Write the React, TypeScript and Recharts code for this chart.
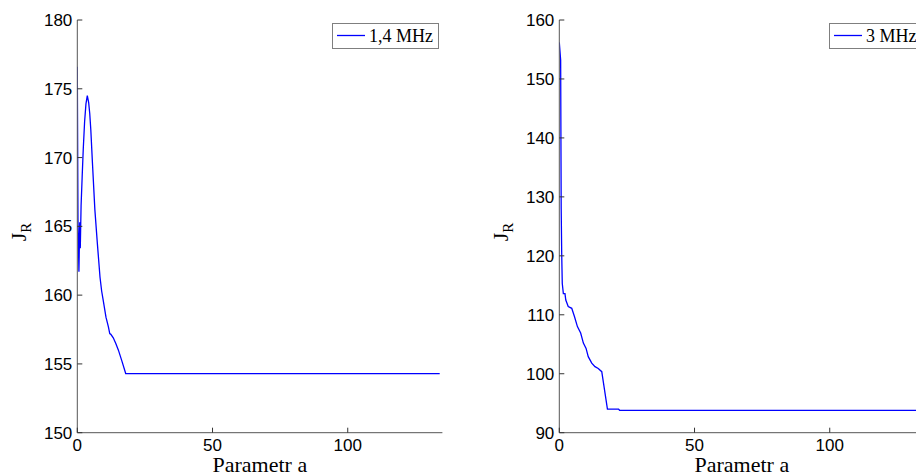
import React from "react";
import { LineChart, Line, XAxis, YAxis, Legend } from "recharts";

// ---- data ----
const leftA = [0, 0.25, 0.6, 0.9, 1.1, 1.4, 1.8, 2.2, 2.7, 3.2, 3.7, 4.2, 4.6, 5.0, 5.6, 6.5, 7.4, 8.4, 9.0, 9.6, 10.6, 11.5, 12.0, 12.4, 13.3, 14.2, 15.2, 16.5, 17.9, 134];
const leftJ = [176.6, 165.5, 161.7, 165.3, 163.4, 166.5, 168.6, 170.6, 172.6, 173.9, 174.5, 174.0, 173.2, 172.0, 169.6, 166.2, 163.8, 161.3, 160.3, 159.6, 158.4, 157.7, 157.2, 157.15, 156.9, 156.5, 156.0, 155.2, 154.3, 154.3];

const rightA = [0, 0.5, 0.7, 0.9, 1.1, 1.5, 2.1, 2.4, 3.3, 4.6, 5.6, 6.7, 7.9, 8.9, 9.9, 10.7, 12.0, 13.2, 14.4, 15.7, 17.8, 21.9, 22.3, 134];
const rightJ = [156.2, 153.2, 128.0, 120.0, 115.3, 113.6, 113.6, 112.5, 111.4, 111.1, 109.7, 108.0, 106.9, 105.2, 104.3, 102.9, 101.8, 101.2, 100.9, 100.35, 94.0, 94.0, 93.8, 93.8];

const xTicks = [0, 50, 100];
const xDomain = [0, 135];
const leftYTicks = [150, 155, 160, 165, 170, 175, 180];
const leftYDomain = [150, 180];
const rightYTicks = [90, 100, 110, 120, 130, 140, 150, 160];
const rightYDomain = [90, 160];

const leftName = "1,4 MHz";
const rightName = "3 MHz";
const xLabel = "Parametr a";

const leftData = leftA.map((a, i) => ({ a, j: leftJ[i] }));
const rightData = rightA.map((a, i) => ({ a, j: rightJ[i] }));

// ---- styles ----
const SANS = "'Liberation Sans', Arial, Helvetica, sans-serif";
const SERIF = "'Liberation Serif', 'Times New Roman', serif";
const AXIS = "#555555";
const TICK = "#333333";
const TL = 5;

const YTickLeft = (props: any) => {
  const { x, y, payload } = props;
  return (
    <g>
      <line x1={x} x2={x + TL} y1={y} y2={y} stroke={TICK} strokeWidth={1} />
      <text x={x - 5} y={y} dy="0.36em" textAnchor="end" fontFamily={SANS} fontSize={17} fill="#000">
        {payload.value}
      </text>
    </g>
  );
};

const YTickRight = (props: any) => {
  const { x, y } = props;
  return <line x1={x} x2={x - TL} y1={y} y2={y} stroke={TICK} strokeWidth={1} />;
};

const XTickBottom = (props: any) => {
  const { x, y, payload } = props;
  return (
    <g>
      <line x1={x} x2={x} y1={y} y2={y - TL} stroke={TICK} strokeWidth={1} />
      <text x={x} y={y + 18.7} textAnchor="middle" fontFamily={SANS} fontSize={17} fill="#000">
        {payload.value}
      </text>
    </g>
  );
};

const XTickTop = (props: any) => {
  const { x, y } = props;
  return <line x1={x} x2={x} y1={y} y2={y + TL} stroke={TICK} strokeWidth={1} />;
};

const makeJLabel = (bx: number) => (props: any) => {
  const cy = 232;
  return (
    <text
      x={bx}
      y={cy}
      transform={`rotate(-90, ${bx}, ${cy})`}
      textAnchor="middle"
      fontFamily={SERIF}
      fontSize={22}
      fill="#000"
    >
      <tspan>J</tspan>
      <tspan fontSize={15} dy={5}>R</tspan>
    </text>
  );
};

const makeXLabel = () => (props: any) => {
  const vb = props.viewBox || {};
  const cx = (vb.x || 0) + (vb.width || 0) / 2;
  return (
    <text x={cx} y={471.5} textAnchor="middle" fontFamily={SERIF} fontSize={22} fill="#000">
      {xLabel}
    </text>
  );
};

const makeLegend = (name: string, width: number) => () => (
  <div
    style={{
      boxSizing: "border-box",
      width,
      height: 25.5,
      border: "1px solid #7f7f7f",
      background: "#fff",
      display: "flex",
      alignItems: "center",
      paddingLeft: 4,
      whiteSpace: "nowrap",
    }}
  >
    <svg width={28} height={4} style={{ display: "block" }}>
      <line x1={0} x2={28} y1={1.5} y2={1.5} stroke="#0000ff" strokeWidth={1.3} />
    </svg>
    <span style={{ fontFamily: SERIF, fontSize: 18, color: "#000", marginLeft: 4, lineHeight: "20px" }}>{name}</span>
  </div>
);

type PanelProps = {
  data: { a: number; j: number }[];
  yTicks: number[];
  yDomain: number[];
  name: string;
  yAxisWidth: number;
  jx: number;
  legendLeft: number;
  legendWidth: number;
};

const Panel = ({ data, yTicks, yDomain, name, yAxisWidth, jx, legendLeft, legendWidth }: PanelProps) => {
  const plotW = 365.1;
  const rightM = 17.6;
  const width = yAxisWidth + plotW + rightM;
  return (
    <LineChart width={width} height={475} data={data} margin={{ top: 20, right: rightM, bottom: 0, left: 0 }}>
      <XAxis
        xAxisId="b"
        dataKey="a"
        type="number"
        domain={xDomain}
        ticks={xTicks}
        interval={0}
        orientation="bottom"
        height={42.3}
        axisLine={{ stroke: AXIS, strokeWidth: 1 }}
        tickLine={false}
        tickSize={0}
        tickMargin={0}
        tick={XTickBottom}
        allowDataOverflow
        label={{ content: makeXLabel() }}
      />
      <XAxis
        xAxisId="t"
        dataKey="a"
        type="number"
        domain={xDomain}
        ticks={xTicks}
        interval={0}
        orientation="top"
        height={0}
        axisLine={{ stroke: AXIS, strokeWidth: 1 }}
        tickLine={false}
        tickSize={0}
        tickMargin={0}
        tick={XTickTop}
        allowDataOverflow
      />
      <YAxis
        yAxisId="l"
        type="number"
        domain={yDomain}
        ticks={yTicks}
        interval={0}
        orientation="left"
        width={yAxisWidth}
        axisLine={{ stroke: AXIS, strokeWidth: 1 }}
        tickLine={false}
        tickSize={0}
        tickMargin={0}
        tick={YTickLeft}
        allowDataOverflow
        label={{ content: makeJLabel(jx) }}
      />
      <YAxis
        yAxisId="r"
        type="number"
        domain={yDomain}
        ticks={yTicks}
        interval={0}
        orientation="right"
        width={0}
        axisLine={{ stroke: AXIS, strokeWidth: 1 }}
        tickLine={false}
        tickSize={0}
        tickMargin={0}
        tick={YTickRight}
        allowDataOverflow
      />
      <Legend
        layout="horizontal"
        verticalAlign="middle"
        align="center"
        wrapperStyle={{ top: 23, left: legendLeft, width: legendWidth, height: 26 }}
        content={makeLegend(name, legendWidth)}
      />
      <Line
        xAxisId="b"
        yAxisId="l"
        dataKey="j"
        name={name}
        type="linear"
        stroke="#0000ff"
        strokeWidth={1.3}
        dot={false}
        activeDot={false}
        isAnimationActive={false}
      />
    </LineChart>
  );
};

export default function App() {
  return (
    <div style={{ position: "absolute", left: 0, top: 0, width: 916, height: 475, overflow: "hidden", background: "#fff" }}>
      <div style={{ position: "absolute", left: 0, top: 0 }}>
        <Panel
          data={leftData}
          yTicks={leftYTicks}
          yDomain={leftYDomain}
          name={leftName}
          yAxisWidth={77.3}
          jx={26}
          legendLeft={332}
          legendWidth={106.5}
        />
      </div>
      <div style={{ position: "absolute", left: 460, top: 0 }}>
        <Panel
          data={rightData}
          yTicks={rightYTicks}
          yDomain={rightYDomain}
          name={rightName}
          yAxisWidth={99.3}
          jx={48}
          legendLeft={369}
          legendWidth={106.5}
        />
      </div>
    </div>
  );
}
